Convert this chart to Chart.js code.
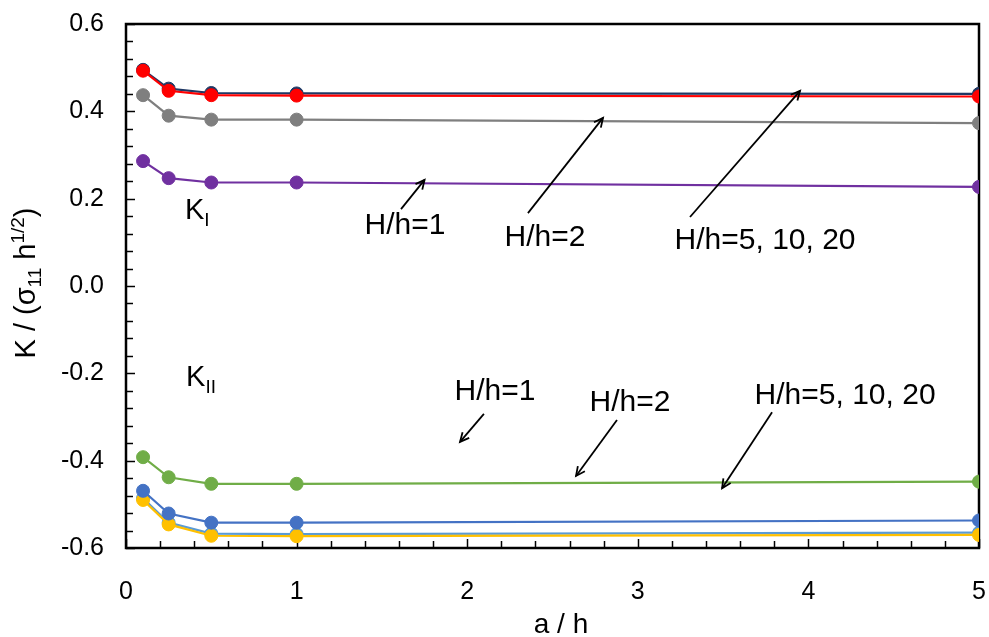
<!DOCTYPE html>
<html>
<head>
<meta charset="utf-8">
<script src="https://cdn.jsdelivr.net/npm/chart.js@4.4.1/dist/chart.umd.min.js"></script>
<style>
  html, body { margin: 0; padding: 0; background: #fff; }
  #wrap { width: 989px; height: 637px; }
</style>
</head>
<body>
<div id="wrap"><canvas id="chart" width="989" height="637"></canvas></div>
<script>
// a/h values
const aOverH = [0.1, 0.25, 0.5, 1, 5];

// K_I series
const kI_H1  = [0.286, 0.247, 0.237, 0.237, 0.227];
const kI_H2  = [0.437, 0.390, 0.381, 0.381, 0.373];
const kI_H5  = [0.495, 0.452, 0.442, 0.441, 0.440];
const kI_H20 = [0.493, 0.447, 0.437, 0.436, 0.434];

// K_II series
const kII_H1  = [-0.392, -0.438, -0.453, -0.453, -0.448];
const kII_H2  = [-0.469, -0.521, -0.542, -0.542, -0.537];
const kII_H5  = [-0.486, -0.542, -0.567, -0.568, -0.565];
const kII_H20 = [-0.490, -0.546, -0.572, -0.573, -0.570];

// axis ticks
const xTicks = [0, 1, 2, 3, 4, 5];
const yTicks = [-0.6, -0.4, -0.2, 0.0, 0.2, 0.4, 0.6];

// annotations (data coordinates): text labels and arrows [tail, head]
const noteTexts = ['H/h=1', 'H/h=2', 'H/h=5, 10, 20', 'H/h=1', 'H/h=2', 'H/h=5, 10, 20'];
const notePos = [[1.635, 0.137], [2.456, 0.110], [3.746, 0.103], [2.163, -0.243], [2.954, -0.268], [4.215, -0.252]];
const arrows = [
  [[1.612, 0.176], [1.750, 0.243]],
  [[2.356, 0.167], [2.796, 0.385]],
  [[3.306, 0.158], [3.951, 0.447]],
  [[2.098, -0.293], [1.958, -0.357]],
  [[2.878, -0.307], [2.638, -0.435]],
  [[3.787, -0.289], [3.494, -0.463]]
];
const kLabelPos = [[0.346, 0.176], [0.352, -0.206]];
const kLabelSub = ['I', 'II'];

const FONT = '"Liberation Sans", Arial, sans-serif';

function pts(ys) {
  return aOverH.map((x, i) => ({ x: x, y: ys[i] }));
}

function series(ys, color, order) {
  return {
    data: pts(ys),
    borderColor: color,
    backgroundColor: color,
    pointBackgroundColor: color,
    pointBorderColor: color,
    borderWidth: 2.2,
    pointRadius: 6.5,
    pointBorderWidth: 1,
    tension: 0,
    order: order
  };
}

function richText(ctx, parts, x, y, align) {
  // parts: [text, size, dy]
  let total = 0;
  parts.forEach(p => { ctx.font = p[1] + 'px ' + FONT; total += ctx.measureText(p[0]).width; });
  let cx = align === 'center' ? x - total / 2 : x;
  ctx.textBaseline = 'alphabetic';
  ctx.textAlign = 'left';
  parts.forEach(p => {
    ctx.font = p[1] + 'px ' + FONT;
    ctx.fillText(p[0], cx, y + p[2]);
    cx += ctx.measureText(p[0]).width;
  });
}

const deco = {
  id: 'deco',
  beforeDatasetsDraw(chart) {
    const ctx = chart.ctx;
    const a = chart.chartArea;
    const xs = chart.scales.x, ys = chart.scales.y;
    ctx.save();
    ctx.strokeStyle = '#000';
    ctx.lineWidth = 1.5;
    // minor and major ticks, pointing inward
    for (let i = 0; i <= 30; i++) {
      const py = Math.round(ys.getPixelForValue(-0.6 + i * 0.04)) + 0.5;
      const len = i % 5 === 0 ? 9 : 7;
      ctx.beginPath();
      ctx.moveTo(a.left, py);
      ctx.lineTo(a.left + len, py);
      ctx.stroke();
    }
    for (let i = 0; i <= 25; i++) {
      const px = Math.round(xs.getPixelForValue(i * 0.2)) + 0.5;
      const len = i % 5 === 0 ? 9 : 7;
      ctx.beginPath();
      ctx.moveTo(px, a.bottom);
      ctx.lineTo(px, a.bottom - len);
      ctx.stroke();
    }
    ctx.lineWidth = 2.5;
    ctx.strokeRect(a.left, a.top, a.right - a.left, a.bottom - a.top);
    ctx.restore();
  },
  afterDatasetsDraw(chart) {
    const ctx = chart.ctx;
    const xs = chart.scales.x, ys = chart.scales.y;
    const P = p => [xs.getPixelForValue(p[0]), ys.getPixelForValue(p[1])];
    ctx.save();
    ctx.fillStyle = '#000';
    ctx.strokeStyle = '#000';

    // arrows
    ctx.lineWidth = 1.8;
    arrows.forEach(ar => {
      const t = P(ar[0]), h = P(ar[1]);
      ctx.beginPath();
      ctx.moveTo(t[0], t[1]);
      ctx.lineTo(h[0], h[1]);
      ctx.stroke();
      const ang = Math.atan2(h[1] - t[1], h[0] - t[0]);
      const L = 10, w = 0.45;
      ctx.beginPath();
      ctx.moveTo(h[0] - L * Math.cos(ang - w), h[1] - L * Math.sin(ang - w));
      ctx.lineTo(h[0], h[1]);
      ctx.lineTo(h[0] - L * Math.cos(ang + w), h[1] - L * Math.sin(ang + w));
      ctx.stroke();
    });

    // annotation texts
    ctx.font = '30px ' + FONT;
    ctx.textAlign = 'center';
    ctx.textBaseline = 'middle';
    noteTexts.forEach((t, i) => {
      const p = P(notePos[i]);
      ctx.fillText(t, p[0], p[1]);
    });

    // K_I / K_II labels
    kLabelPos.forEach((kp, i) => {
      const p = P(kp);
      richText(ctx, [['K', 29, 0], [kLabelSub[i], 19, 7]], p[0], p[1] + 10, 'left');
    });

    // x axis title
    ctx.font = '28px ' + FONT;
    ctx.textAlign = 'center';
    ctx.textBaseline = 'alphabetic';
    ctx.fillText('a / h', 561, 633);

    // y axis title (rotated)
    ctx.translate(35, 283);
    ctx.rotate(-Math.PI / 2);
    richText(ctx, [['K / (\u03c3', 29, 0], ['11', 19, 6], [' h', 29, 0], ['1/2', 19, -11], [')', 29, 0]], 0, 0, 'center');
    ctx.restore();
  }
};

const ctx = document.getElementById('chart').getContext('2d');
new Chart(ctx, {
  type: 'line',
  data: {
    datasets: [
      series(kI_H1, '#7030A0', 1),
      series(kI_H2, '#7F7F7F', 1),
      series(kI_H5, '#1F3864', 2),
      series(kI_H20, '#FF0000', 1),
      series(kII_H1, '#70AD47', 1),
      series(kII_H2, '#4472C4', 1),
      series(kII_H5, '#5B9BD5', 2),
      series(kII_H20, '#FFC000', 1)
    ]
  },
  options: {
    responsive: false,
    animation: false,
    layout: { padding: { top: 24, right: 10, left: 0, bottom: 0 } },
    plugins: { legend: { display: false }, tooltip: { enabled: false } },
    scales: {
      x: {
        type: 'linear',
        min: 0,
        max: 5,
        afterFit: s => { s.height = 89; s.paddingLeft = 0; s.paddingRight = 0; },
        afterBuildTicks: s => { s.ticks = xTicks.map(v => ({ value: v })); },
        grid: { display: false, drawTicks: false },
        border: { display: false },
        ticks: { color: '#000', padding: 29, font: { family: FONT, size: 25 }, callback: v => String(v) }
      },
      y: {
        min: -0.6,
        max: 0.6,
        afterFit: s => { s.width = 126; s.paddingTop = 0; s.paddingBottom = 0; },
        afterBuildTicks: s => { s.ticks = yTicks.map(v => ({ value: v })); },
        grid: { display: false, drawTicks: false },
        border: { display: false },
        ticks: { color: '#000', padding: 22, font: { family: FONT, size: 25 }, callback: v => v.toFixed(1) }
      }
    }
  },
  plugins: [deco]
});
</script>
</body>
</html>
